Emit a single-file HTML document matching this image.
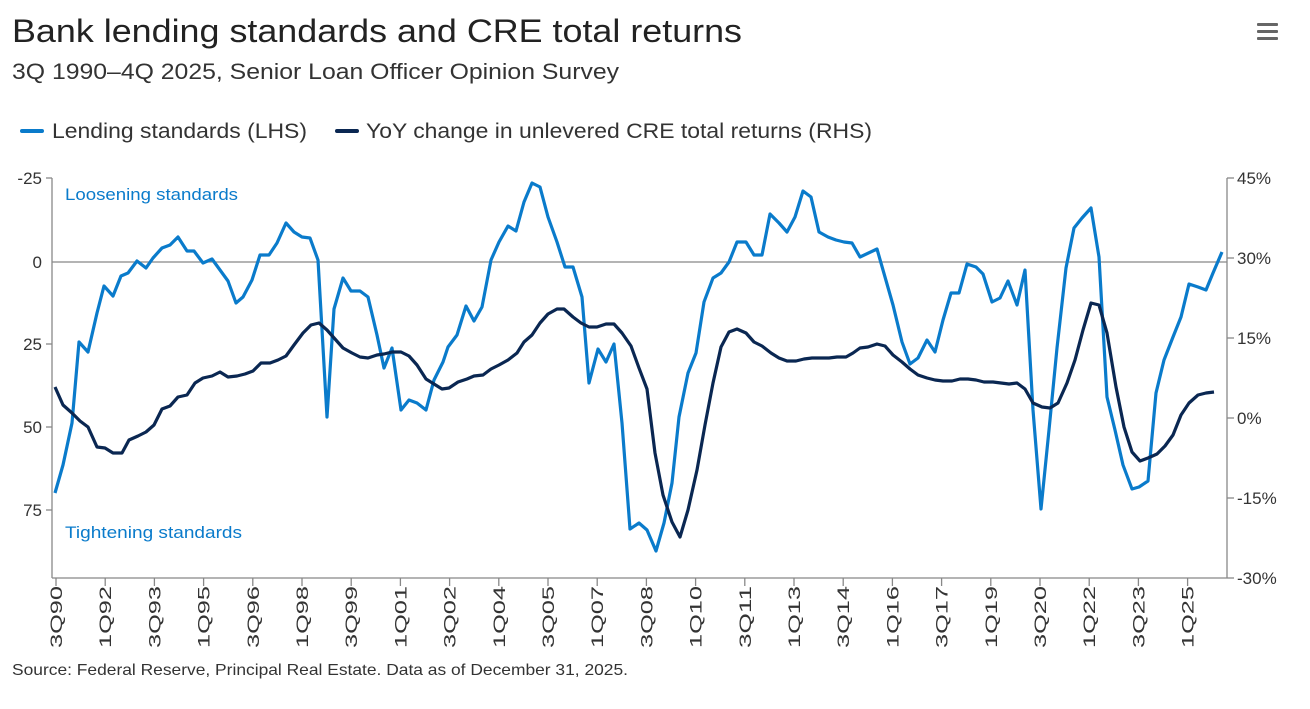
<!DOCTYPE html>
<html><head><meta charset="utf-8"><style>
body{margin:0;background:#fff;width:1310px;height:704px;overflow:hidden;font-family:"Liberation Sans",sans-serif;}
</style></head><body>
<svg width="1310" height="704" xmlns="http://www.w3.org/2000/svg" font-family="Liberation Sans, sans-serif">
<text x="12" y="42" font-size="32" fill="#222" textLength="730" lengthAdjust="spacingAndGlyphs">Bank lending standards and CRE total returns</text>
<text x="12" y="79" font-size="22" fill="#333" textLength="607" lengthAdjust="spacingAndGlyphs">3Q 1990–4Q 2025, Senior Loan Officer Opinion Survey</text>
<g fill="#666"><rect x="1257" y="23" width="21" height="3" rx="1"/><rect x="1257" y="30" width="21" height="3" rx="1"/><rect x="1257" y="37" width="21" height="3" rx="1"/></g>
<line x1="22" y1="131" x2="42" y2="131" stroke="#0a7bcb" stroke-width="4" stroke-linecap="round"/>
<text x="52" y="138" font-size="21" fill="#333" textLength="255" lengthAdjust="spacingAndGlyphs">Lending standards (LHS)</text>
<line x1="337" y1="131" x2="357" y2="131" stroke="#0a2752" stroke-width="4" stroke-linecap="round"/>
<text x="366" y="138" font-size="21" fill="#333" textLength="506" lengthAdjust="spacingAndGlyphs">YoY change in unlevered CRE total returns (RHS)</text>
<g stroke="#888" stroke-width="1.3" fill="none">
<line x1="52" y1="178" x2="52" y2="578"/><line x1="1227" y1="178" x2="1227" y2="578"/>
<line x1="52" y1="578" x2="1227" y2="578"/>
<line x1="52" y1="262" x2="1227" y2="262"/>
<line x1="46" y1="178" x2="52" y2="178"/><line x1="46" y1="344" x2="52" y2="344"/><line x1="46" y1="427" x2="52" y2="427"/><line x1="46" y1="510" x2="52" y2="510"/>
<line x1="1227" y1="178" x2="1234" y2="178"/><line x1="1227" y1="258" x2="1234" y2="258"/><line x1="1227" y1="338" x2="1234" y2="338"/><line x1="1227" y1="418" x2="1234" y2="418"/><line x1="1227" y1="498" x2="1234" y2="498"/><line x1="1227" y1="578" x2="1234" y2="578"/>
</g>
<g font-size="17" fill="#333" text-anchor="end">
<text x="42" y="184">-25</text><text x="42" y="268">0</text><text x="42" y="350">25</text><text x="42" y="433">50</text><text x="42" y="516">75</text>
</g>
<g font-size="17" fill="#333">
<text x="1237" y="184">45%</text><text x="1237" y="264">30%</text><text x="1237" y="344">15%</text><text x="1237" y="424">0%</text><text x="1237" y="504">-15%</text><text x="1237" y="584">-30%</text>
</g>
<text x="65" y="200" font-size="17" fill="#0a7bcb" textLength="173" lengthAdjust="spacingAndGlyphs">Loosening standards</text>
<text x="65" y="538" font-size="17" fill="#0a7bcb" textLength="177" lengthAdjust="spacingAndGlyphs">Tightening standards</text>
<g id="xt" stroke="#888" stroke-width="1.3"></g>
<g font-size="17" fill="#333" id="xl"></g>
<polyline fill="none" stroke="#0a7bcb" stroke-width="3.2" stroke-linejoin="round" points="55,493 63,465 72,423 79,342 88,352 97,313 104,286 113,296 121,276 128,273 137,261 146,268 153,258 162,248 170,245 178,237 187,251 194,251 203,263 212,259 220,270 228,281 236,303 243,297 252,280 260,255 269,255 277,243 286,223 294,232 302,237 310,238 318,260 327,417 334,309 343,278 351,291 360,291 368,297 377,335 384,368 392,348 401,410 409,400 417,403 426,410 434,380 443,362 448,347 457,335 466,306 474,321 482,307 491,260 499,242 508,226 516,231 524,202 532,183 540,187 548,217 557,242 565,267 573,267 582,297 589,383 598,349 606,362 614,344 622,423 630,529 639,523 647,530 656,551 664,523 672,483 679,417 688,373 696,353 704,302 713,278 721,273 729,262 737,242 746,242 754,255 762,255 770,214 779,223 787,232 795,217 803,191 811,197 819,232 828,237 836,240 844,242 852,243 860,257 877,249 893,305 902,342 910,364 918,358 927,340 935,352 943,320 951,293 959,293 967,264 976,267 983,274 992,302 1000,298 1008,281 1017,305 1025,270 1033,410 1041,509 1049,430 1057,348 1066,268 1074,228 1082,218 1091,208 1099,257 1107,397 1115,430 1123,465 1132,489 1139,487 1148,481 1156,393 1164,360 1173,337 1181,317 1189,284 1198,287 1206,290 1213,273 1222,252"/>
<polyline fill="none" stroke="#0a2752" stroke-width="3.2" stroke-linejoin="round" points="55,387 63,405 72,413 80,421 88,427 97,447 105,448 113,453 122,453 129,440 138,436 146,432 154,425 162,409 170,406 178,397 187,395 195,383 203,378 212,376 220,372 228,377 237,376 245,374 253,371 261,363 270,363 278,360 286,356 294,345 303,333 311,325 319,323 327,330 335,339 343,348 352,353 360,357 368,358 377,355 384,354 392,352 401,352 409,356 417,365 426,379 434,384 442,389 449,388 458,382 467,379 474,376 483,375 491,369 499,365 508,360 517,353 524,342 532,335 540,323 548,314 557,309 564,309 573,317 581,323 589,327 597,327 606,324 614,324 622,333 631,346 639,368 647,389 655,453 663,495 672,522 680,537 688,510 697,470 705,425 713,383 721,347 729,332 737,329 746,333 754,342 762,346 771,353 779,358 787,361 796,361 804,359 812,358 821,358 829,358 837,357 846,357 853,353 860,348 868,347 877,344 885,346 893,355 902,362 910,369 918,375 927,378 935,380 943,381 952,381 960,379 968,379 976,380 984,382 993,382 1001,383 1009,384 1017,383 1025,389 1033,403 1042,407 1050,408 1058,403 1067,383 1075,360 1083,330 1091,303 1099,305 1107,333 1116,387 1124,427 1132,452 1140,461 1148,458 1157,454 1165,446 1173,435 1181,415 1189,403 1198,395 1206,393 1214,392"/>
<text x="12" y="675" font-size="16" fill="#333" textLength="616" lengthAdjust="spacingAndGlyphs">Source: Federal Reserve, Principal Real Estate. Data as of December 31, 2025.</text>
</svg>
<script>
var labs="3Q90 1Q92 3Q93 1Q95 3Q96 1Q98 3Q99 1Q01 3Q02 1Q04 3Q05 1Q07 3Q08 1Q10 3Q11 1Q13 3Q14 1Q16 3Q17 1Q19 3Q20 1Q22 3Q23 1Q25".split(" ");
var ns="http://www.w3.org/2000/svg",t=document.getElementById("xt"),l=document.getElementById("xl");
labs.forEach(function(s,i){var x=56+49.2*i;
var ln=document.createElementNS(ns,"line");ln.setAttribute("x1",x);ln.setAttribute("x2",x);ln.setAttribute("y1",578);ln.setAttribute("y2",586);t.appendChild(ln);
var tx=document.createElementNS(ns,"text");tx.setAttribute("transform","translate("+(x+6)+",586) rotate(-90)");tx.setAttribute("text-anchor","end");tx.setAttribute("textLength","62");tx.setAttribute("lengthAdjust","spacingAndGlyphs");tx.textContent=s;l.appendChild(tx);});
</script>
</body></html>
